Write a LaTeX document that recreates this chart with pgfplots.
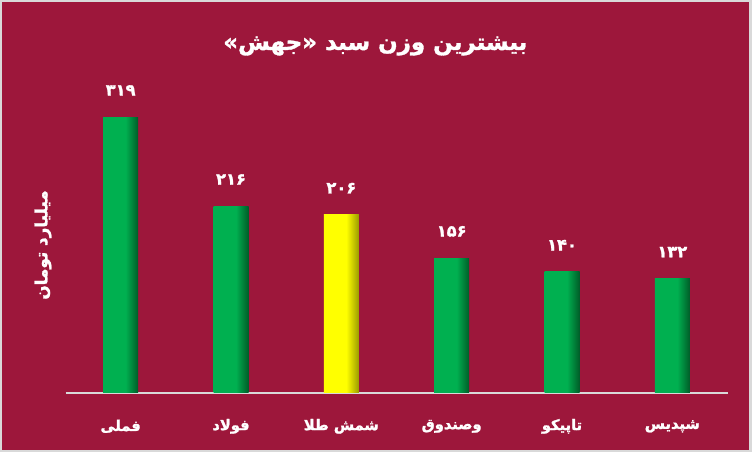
\documentclass[border=0pt]{standalone}
\usepackage{fontspec}
\usepackage{pgfplots}
\pgfplotsset{compat=1.18}
\TeXXeTstate=1
\newfontfamily\fa[Script=Arabic, BoldFeatures={FakeBold=1.5}]{DejaVu Sans}
\definecolor{bg}{HTML}{9D173B}
\definecolor{frame}{HTML}{D9D9D9}
\definecolor{gr}{HTML}{00B050}
\definecolor{gdark}{HTML}{005C28}
\definecolor{yl}{HTML}{FFFF00}
\definecolor{ydark}{HTML}{9A9A00}
\pgfdeclarehorizontalshading{gshade}{100bp}{color(0bp)=(gr); color(25bp)=(gr); color(57bp)=(gr); color(75bp)=(gdark); color(100bp)=(gdark)}
\pgfdeclarehorizontalshading{yshade}{100bp}{color(0bp)=(yl); color(25bp)=(yl); color(57bp)=(yl); color(75bp)=(ydark); color(100bp)=(ydark)}
\begin{document}
\begin{tikzpicture}
\useasboundingbox (0,0) rectangle (564pt,339pt);
\fill[frame] (0,0) rectangle (564pt,339pt);
\fill[bg] (1.5pt,1.5pt) rectangle (561.75pt,337.5pt);
\node[text=white, font=\fa\bfseries\fontsize{17.2}{20}\selectfont] at (281.5pt,304.5pt) {\beginR بیشترین وزن سبد «جهش»\endR};
\node[text=white, rotate=90, font=\fa\bfseries\fontsize{12.6}{15}\selectfont] at (32.25pt,155.25pt) {\beginR میلیارد تومان\endR};
\begin{axis}[
  at={(49.125pt,44.25pt)}, anchor=south west,
  scale only axis, width=496.5pt, height=227.06pt,
  xmin=-0.5, xmax=5.5, ymin=0, ymax=350,
  axis y line=none, axis x line*=bottom,
  x axis line style={draw=frame, line width=1.2pt, -},
  xtick={0,1,2,3,4,5},
  xticklabels={{\beginR فملی\endR},{\beginR فولاد\endR},{\beginR شمش طلا\endR},{\beginR وصندوق\endR},{\beginR تاپیکو\endR},{\beginR شپدیس\endR}},
  major tick length=0pt,
  xticklabel style={text=white, font=\fa\bfseries\fontsize{11}{13}\selectfont, anchor=center, yshift=-25pt},
  clip=false,
  every axis plot/.append style={ybar, bar width=26.25pt, bar shift=0pt, draw=none},
  lab/.style={nodes near coords={#1}, every node near coord/.style={text=white, font=\fa\bfseries\fontsize{12.2}{14}\selectfont, anchor=center, yshift=20pt}},
]
\addplot[shading=gshade, lab={۳۱۹}] coordinates {(0,319)};
\addplot[shading=gshade, lab={۲۱۶}] coordinates {(1,216)};
\addplot[shading=yshade, lab={۲۰۶}] coordinates {(2,206)};
\addplot[shading=gshade, lab={۱۵۶}] coordinates {(3,156)};
\addplot[shading=gshade, lab={۱۴۰}] coordinates {(4,140)};
\addplot[shading=gshade, lab={۱۳۲}] coordinates {(5,132)};
\end{axis}
\end{tikzpicture}
\end{document}
